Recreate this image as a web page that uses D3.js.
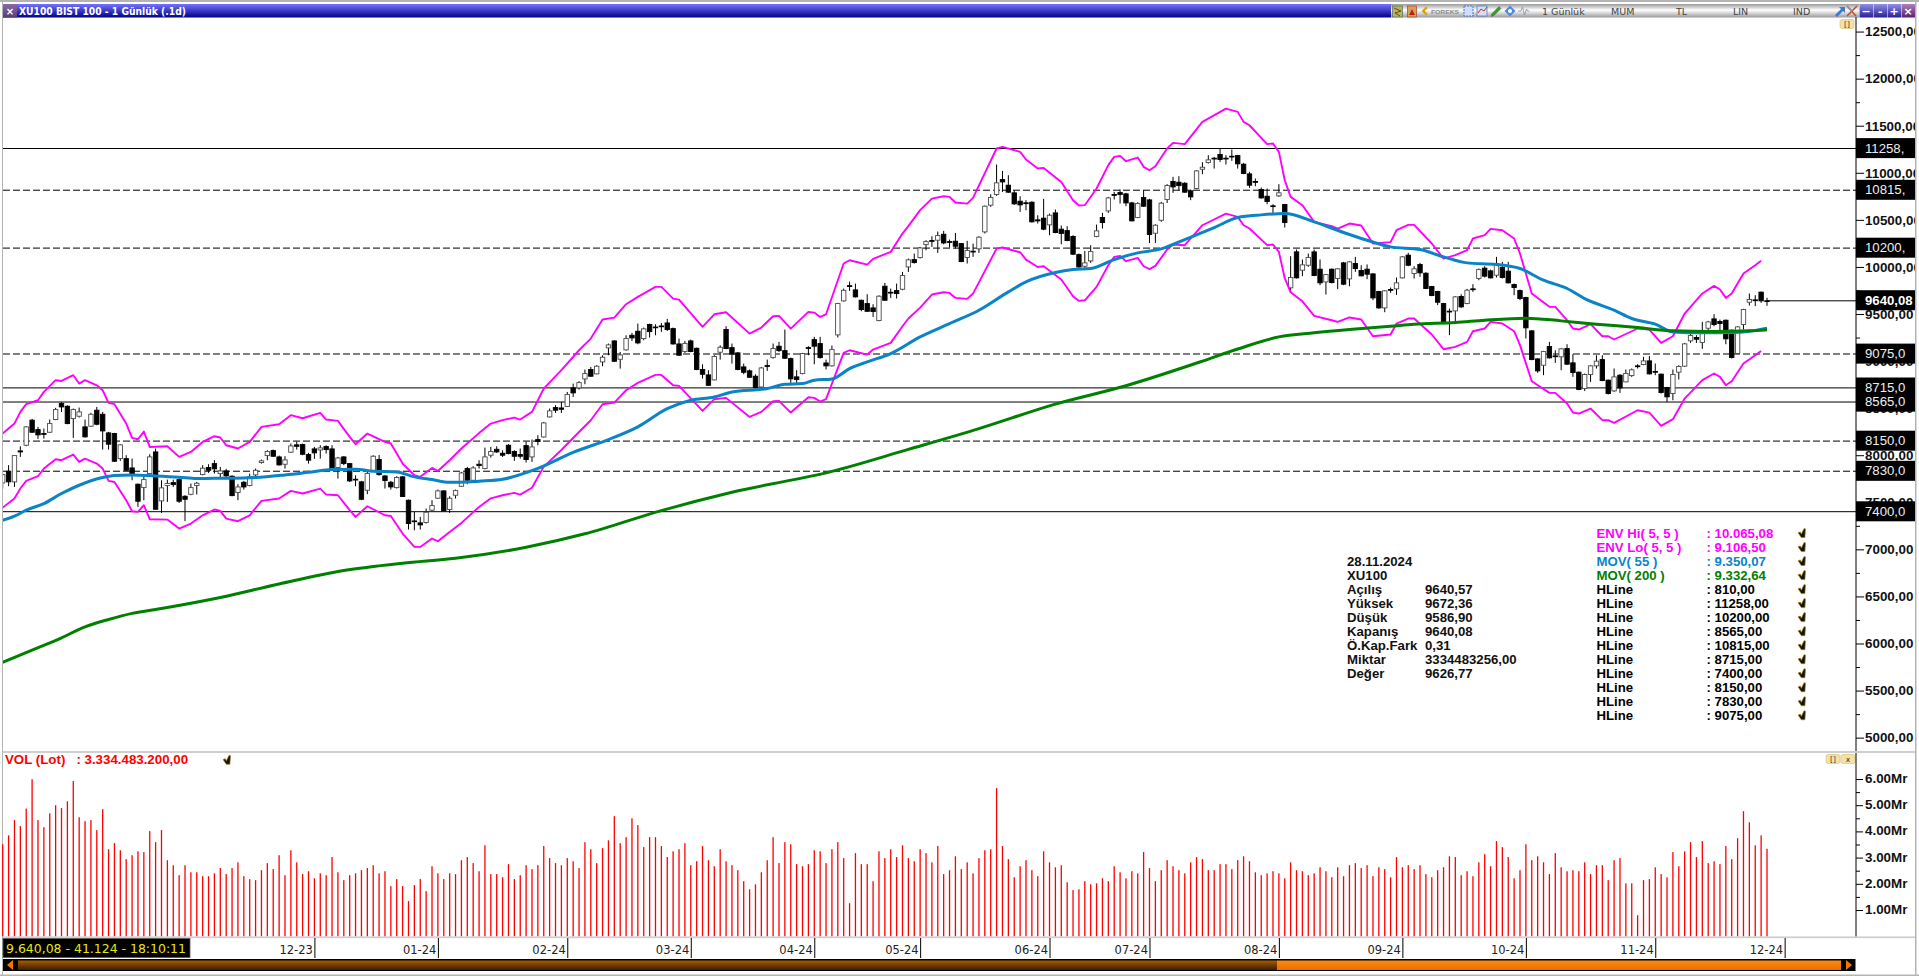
<!DOCTYPE html>
<html><head><meta charset="utf-8"><title>XU100</title>
<script src="https://cdn.jsdelivr.net/npm/d3@7"></script>
<style>html,body{margin:0;padding:0;background:#fff;overflow:hidden}svg{display:block}</style>
</head><body><div id="c"></div>
<script>
const opens=[7706,7830,7717,8046,8106,8372,8272,8230,8244,8379,
8549,8520,8389,8414,8301,8308,8478,8435,8237,8230,
7964,7964,7865,7692,7656,7805,8035,7515,7678,7709,
7741,7564,7585,7678,7794,7869,7911,7805,7833,7777,
7603,7713,7678,7791,7922,7996,8049,7982,7904,8032,
8110,8113,8007,8067,8056,8092,8067,7869,7982,7911,
7745,7717,7628,7830,7954,7780,7713,7656,7770,7522,
7302,7281,7285,7416,7543,7621,7423,7575,7670,7858,
7734,7904,7858,8000,8063,8021,8106,8039,8007,8102,
7982,8166,8194,8407,8506,8502,8517,8715,8715,8810,
8910,8864,8991,9140,9214,9019,9119,9274,9317,9239,
9388,9362,9373,9405,9345,9182,9101,9214,9136,8910,
8853,8800,9094,9335,9143,9087,8938,8896,8839,8725,
8952,9037,9158,9111,9026,8832,8867,9143,9228,9186,
8980,8949,9278,9639,9801,9756,9646,9611,9565,9430,
9795,9731,9749,9763,10000,10078,10099,10237,10280,10284,
10347,10269,10273,10248,10100,10167,10192,10372,10656,10769,
10928,10868,10787,10698,10681,10687,10500,10518,10447,10574,
10401,10386,10323,10131,10007,10064,10323,10525,10595,10769,
10790,10776,10680,10525,10737,10712,10358,10496,10716,10907,
10900,10889,10808,10833,11038,11109,11155,11194,11155,11176,
11183,11091,10988,10907,10822,10751,10649,10755,10663,9778,
10160,9965,10018,10160,9976,9841,9976,9877,10043,9873,
10036,9962,9976,9926,9739,9565,9760,9767,9884,10125,
9930,10026,9933,9792,9739,9611,9530,9533,9686,9611,
9767,9877,9987,9958,9912,9994,9955,9813,9749,9675,
9321,9023,8956,9154,9055,9045,9133,8981,8882,8708,
8857,8949,9016,8797,8683,8850,8779,8846,8949,8963,
9002,8890,8861,8719,8655,8882,8946,9215,9250,9197,
9349,9448,9420,9434,9328,9080,9388,9625,9650,9732,
9640.57];
const highs=[7805,7894,7996,8095,8308,8386,8301,8283,8379,8503,
8563,8531,8496,8506,8379,8450,8513,8460,8248,8237,
8117,8000,7964,7699,7787,8010,8071,7734,7741,7741,
7752,7575,7699,7716,7894,7904,7947,7876,7855,7787,
7692,7727,7805,7858,7954,8053,8060,7996,7989,8124,
8145,8124,8025,8088,8106,8106,8106,7982,7989,7918,
7787,7727,7823,8000,8003,7787,7727,7777,7777,7529,
7398,7345,7433,7522,7635,7628,7564,7635,7823,7876,
7883,7947,8081,8088,8095,8053,8117,8053,8071,8145,
8166,8212,8354,8496,8531,8566,8672,8761,8786,8910,
8938,8956,9062,9186,9221,9097,9274,9299,9398,9356,
9398,9391,9405,9448,9356,9239,9214,9228,9143,8966,
8903,9062,9168,9370,9186,9097,8973,8910,8860,8938,
9016,9186,9204,9335,9037,8903,9087,9158,9257,9257,
9016,9165,9618,9770,9844,9823,9653,9710,9604,9699,
9830,9770,9823,9947,10089,10142,10213,10284,10326,10376,
10383,10291,10361,10255,10277,10248,10326,10652,10772,11088,
11020,10974,10815,10751,10709,10698,10549,10723,10567,10610,
10440,10432,10337,10142,10170,10231,10450,10574,10744,10797,
10822,10787,10691,10687,10815,10723,10454,10691,10879,10957,
10964,10900,10822,11027,11112,11187,11169,11258,11187,11247,
11190,11105,11010,10939,10843,10833,10666,10879,10670,10114,
10185,10079,10142,10185,10079,9923,9983,9987,10054,10061,
10107,10018,10026,9933,9746,9753,9781,9888,10114,10150,
10008,10043,9944,9799,9746,9618,9558,9689,9710,9767,
9817,9983,10008,9972,10107,10054,10054,9824,9760,9682,
9328,9030,9108,9204,9115,9137,9179,9073,8889,8868,
8956,9062,9062,8804,8921,8861,8910,8921,8967,9045,
9052,8974,8868,8726,8910,8956,9193,9300,9275,9416,
9427,9498,9441,9441,9335,9370,9555,9718,9700,9739,
9672.36];
const lows=[7646,7671,7663,7982,8095,8237,8173,8177,8237,8372,
8460,8329,8184,8400,8187,8301,8318,8060,8060,7929,
7940,7833,7734,7451,7522,7770,7423,7387,7504,7663,
7493,7299,7575,7582,7787,7812,7805,7752,7770,7564,
7522,7635,7670,7770,7911,7947,7982,7890,7858,8025,
8060,8000,7911,7961,7964,8018,7848,7752,7894,7717,
7671,7522,7586,7823,7784,7646,7635,7646,7557,7210,
7203,7210,7274,7408,7536,7405,7387,7540,7663,7692,
7706,7858,7851,7975,8025,7982,8010,7940,7964,7922,
7929,8106,8187,8400,8450,8449,8513,8619,8697,8754,
8832,8860,8945,9062,8991,8920,9111,9214,9179,9221,
9250,9274,9310,9320,9175,9055,9087,9094,8903,8814,
8736,8796,9016,9126,8973,8903,8860,8821,8708,8718,
8896,9026,9097,9023,8761,8761,8860,9062,8966,9026,
8910,8942,9250,9632,9745,9675,9529,9522,9469,9423,
9639,9671,9664,9752,9947,10036,10089,10177,10213,10149,
10241,10206,10195,10050,10036,10107,10149,10355,10638,10755,
10797,10787,10659,10585,10602,10471,10461,10390,10337,10358,
10241,10273,10128,9990,9965,10043,10316,10408,10574,10716,
10673,10645,10486,10518,10638,10255,10255,10479,10680,10787,
10815,10787,10709,10825,10985,11098,11045,11116,11088,11127,
11045,10985,10840,10857,10726,10666,10574,10744,10418,9732,
9877,9902,10001,9902,9806,9707,9824,9764,9806,9795,
9948,9902,9870,9647,9555,9519,9725,9703,9877,10008,
9877,9895,9764,9689,9594,9406,9275,9424,9565,9604,
9735,9859,9888,9877,9888,9877,9824,9700,9647,9239,
9009,8875,8850,9027,8981,8903,8960,8832,8691,8683,
8779,8921,8786,8645,8673,8662,8776,8832,8921,8956,
8857,8850,8655,8563,8584,8804,8938,9193,9193,9130,
9328,9370,9328,9179,9027,9073,9335,9590,9583,9618,
9586.90];
const closes=[7794,7717,7996,8035,8301,8244,8216,8223,8336,8485,
8513,8336,8485,8460,8195,8435,8329,8258,8117,7936,
8110,7840,7805,7511,7741,7982,7426,7653,7699,7688,
7511,7532,7656,7702,7862,7840,7855,7833,7780,7571,
7663,7663,7770,7840,7940,8039,7989,7897,7950,8099,
8095,8010,7947,8025,8078,8060,7858,7971,7911,7727,
7738,7532,7805,7989,7794,7731,7663,7763,7561,7274,
7295,7260,7394,7465,7621,7408,7543,7624,7812,7734,
7865,7890,7982,8039,8035,8000,8017,7989,7989,7954,
8088,8145,8343,8471,8478,8488,8644,8662,8771,8867,
8839,8945,9041,9172,8998,9065,9239,9246,9193,9342,
9313,9355,9366,9335,9182,9062,9186,9101,8910,8860,
8743,9048,9147,9133,9073,8910,8881,8828,8718,8927,
8945,9133,9111,9030,8811,8803,9080,9136,9158,9037,
8949,9122,9611,9752,9794,9682,9547,9529,9526,9689,
9646,9724,9717,9908,10075,10046,10202,10269,10273,10333,
10255,10262,10220,10057,10174,10160,10316,10645,10737,10893,
10903,10794,10670,10659,10674,10479,10489,10401,10549,10365,
10355,10280,10135,10000,10043,10163,10383,10471,10733,10762,
10769,10680,10489,10673,10645,10344,10443,10677,10865,10850,
10864,10794,10744,11020,11059,11137,11148,11141,11148,11169,
11095,10992,10868,10900,10733,10695,10642,10787,10471,9888,
9884,10022,10100,9909,9831,9919,9834,9980,9817,10054,
9983,9905,9923,9671,9565,9746,9753,9831,10107,10018,
9980,9937,9771,9696,9625,9417,9523,9682,9576,9753,
9760,9972,9902,9884,10036,9888,9831,9781,9664,9353,
9016,8896,9101,9034,9048,9130,8967,8878,8698,8857,
8949,8999,8793,8655,8832,8715,8868,8907,8942,9002,
8864,8883,8666,8620,8857,8942,9183,9271,9232,9321,
9416,9388,9399,9236,9038,9363,9548,9654,9643,9640,
9640.08];
const volumes=[3.51,3.85,4.43,4.20,4.87,5.99,4.43,4.16,4.69,5.00,4.89,5.15,5.92,4.54,4.39,4.43,4.05,4.85,3.32,3.55,3.28,2.94,3.09,3.24,3.21,4.01,3.59,4.05,2.90,2.71,2.33,2.71,2.44,2.44,2.29,2.29,2.40,2.60,2.37,2.60,2.82,2.29,2.18,2.14,2.52,2.79,2.56,3.09,2.33,3.28,2.82,2.37,2.48,2.21,2.40,2.33,3.02,2.44,2.14,2.33,2.40,2.52,2.60,2.71,2.40,2.48,1.91,2.18,1.91,1.34,1.95,2.18,1.72,2.67,2.40,2.18,2.40,2.37,2.90,3.02,2.79,2.48,3.47,2.37,2.37,2.25,2.75,2.18,2.33,2.71,2.56,2.71,3.44,2.98,2.79,2.71,2.98,2.86,2.60,3.59,3.32,2.79,3.36,3.66,4.58,3.55,3.78,4.50,4.24,
3.40,3.78,3.78,3.44,3.02,3.24,3.32,3.55,2.71,2.86,3.44,2.90,2.67,3.32,2.86,2.71,2.52,2.10,1.79,1.98,2.44,2.90,3.78,2.79,3.59,3.51,2.75,2.67,2.75,3.28,3.24,2.79,3.32,3.59,2.98,1.26,3.17,2.75,2.75,2.10,3.24,2.98,3.32,3.02,3.47,2.98,2.86,3.32,3.17,2.82,3.44,2.37,2.52,3.05,2.56,2.82,2.40,2.98,3.28,3.32,5.65,3.44,2.94,2.25,2.67,2.90,2.52,2.29,3.24,2.82,2.63,2.71,2.06,1.76,1.79,2.10,1.98,2.02,2.21,2.10,2.67,2.44,2.21,2.48,2.40,3.21,2.60,2.10,2.52,2.90,2.67,2.52,2.40,2.82,3.02,2.94,2.52,2.52,2.75,2.75,2.56,2.90,3.05,2.86,2.44,2.33,2.40,2.48,2.40,
2.21,2.82,2.52,2.48,2.33,2.40,2.63,2.48,2.25,2.63,2.29,2.71,2.79,2.60,2.71,2.29,2.63,2.56,2.25,3.02,2.63,2.71,2.56,2.71,2.37,2.25,2.52,2.63,3.05,3.02,2.33,2.48,2.29,2.82,3.13,2.67,3.63,3.40,3.02,2.21,2.52,3.51,2.90,3.05,2.82,2.37,3.17,2.63,2.48,2.52,2.48,2.82,2.37,2.71,2.71,2.14,2.90,2.98,2.02,2.02,0.80,2.14,2.18,2.63,2.37,2.25,3.21,2.67,3.24,3.59,3.02,3.63,2.79,2.86,2.75,3.44,2.94,3.74,4.77,4.35,3.47,3.85,3.334];
const envIdx=[0,2,3,4,6,7,9,10,12,13,14,16,17,18,19,21,22,23,24,25,28,30,32,34,36,37,38,40,42,44,47,49,51,54,55,57,59,60,62,65,66,68,70,71,73,74,76,78,81,
83,85,87,88,90,91,92,95,98,100,102,104,106,108,111,112,114,115,119,121,123,127,129,131,132,134,137,138,139,140,143,144,147,148,151,153,
154,156,158,160,161,162,164,165,169,170,173,174,176,177,180,182,183,184,186,188,189,190,191,193,194,195,196,198,199,201,204,208,210,211,212,215,216,217,218,219,221,
223,226,227,229,231,233,236,237,239,240,243,245,247,249,250,252,253,255,257,258,260,263,264,266,267,268,270,272,273,274,278,280,282,284,286,289,291,292,293,294,296,298,299];
const envHi=[8230,8336,8460,8542,8584,8673,8797,8789,8850,8761,8797,8743,8690,8556,8542,8336,8184,8170,8251,8088,8095,7982,8035,8141,8202,8188,8106,8071,8141,8301,8329,8425,8393,8450,8379,8365,8195,8117,8230,8141,8124,7911,7787,7770,7865,7833,7947,8071,8235,
8336,8372,8400,8379,8460,8584,8708,8903,9115,9239,9441,9462,9604,9682,9788,9788,9664,9653,9363,9497,9519,9292,9356,9476,9480,9345,9522,9515,9469,9497,10036,10071,10025,10085,10160,10354,
10433,10603,10726,10751,10744,10684,10673,10734,11258,11275,11222,11141,11045,11052,10903,10709,10652,10656,10833,11081,11169,11180,11123,11162,11063,11027,11070,11258,11318,11304,11541,11682,11647,11541,11505,11304,11311,11222,10921,10744,10656,
10479,10433,10408,10461,10440,10249,10263,10390,10447,10447,10249,10089,10125,10178,10302,10337,10404,10390,10302,10142,9718,9576,9576,9434,9346,9335,9392,9264,9264,9229,9346,9335,9193,9264,9505,9718,9799,9760,9671,9718,9930,10018,10065.08];
const envLo=[7444,7540,7646,7727,7777,7858,7957,7947,8007,7929,7964,7911,7858,7727,7716,7522,7405,7398,7469,7320,7316,7221,7274,7362,7423,7408,7327,7299,7362,7515,7540,7621,7593,7646,7582,7575,7416,7345,7458,7362,7355,7168,7026,7026,7115,7086,7185,7281,7451,
7542,7575,7600,7581,7654,7766,7879,8055,8247,8371,8541,8559,8690,8768,8853,8853,8743,8736,8471,8595,8609,8407,8460,8573,8577,8453,8616,8609,8570,8595,9087,9115,9069,9122,9193,9370,
9452,9568,9707,9731,9724,9671,9661,9717,10195,10206,10156,10078,10000,10007,9866,9689,9639,9646,9788,10018,10107,10117,10061,10096,10007,9976,10011,10185,10238,10231,10443,10567,10532,10443,10408,10231,10238,10160,9880,9730,9635,
9480,9434,9416,9463,9441,9264,9282,9399,9452,9452,9282,9126,9151,9204,9317,9346,9416,9399,9317,9169,8786,8662,8662,8549,8453,8443,8496,8372,8372,8344,8478,8453,8312,8383,8602,8797,8868,8832,8744,8786,8974,9062,9106.50];
const mov55Idx=[0,2,4,7,10,13,17,19,22,26,30,33,36,39,43,48,52,56,60,63,67,70,73,76,79,81,85,91,97,103,108,113,117,121,124,130,133,136,138,141,144,147,151,156,161,166,171,174,179,182,185,189,193,197,201,206,210,214,218,223,228,232,236,241,245,249,254,258,262,266,269,274,277,281,284,289,294,297,300];
const mov55=[7309,7352,7416,7486,7593,7681,7763,7784,7791,7780,7766,7752,7755,7755,7763,7791,7819,7848,7851,7830,7823,7770,7741,7713,7716,7724,7745,7860,8030,8166,8301,8495,8584,8619,8672,8708,8754,8761,8796,8810,8920,8991,9080,9257,9398,9540,9735,9841,9940,9972,9983,10078,10149,10192,10291,10418,10525,10553,10567,10479,10366,10284,10213,10185,10107,10043,10026,9983,9859,9771,9664,9540,9452,9392,9310,9300,9303,9317,9350.07];
const mov200Idx=[0,5,10,14,18,22,27,37,47,58,68,77,89,99,112,124,141,154,166,179,191,204,210,217,223,229,236,240,247,252,259,265,271,278,284,291,297,300];
const mov200=[5800,5930,6061,6177,6255,6320,6372,6489,6632,6775,6853,6905,7022,7165,7412,7607,7828,8062,8283,8543,8738,8999,9128,9257,9300,9335,9370,9392,9409,9434,9456,9427,9392,9356,9321,9314,9321,9332.64];
const hLineValues=[11258,10815,10200,9075,8715,8565,8150,7830,7400];
const hLineDashed=[false,true,true,true,false,false,true,true,false];
const hLineTags=["11258,","10815,","10200,","9075,0","8715,0","8565,0","8150,0","7830,0","7400,0"];
const priceTicks=[5000,5500,6000,6500,7000,7500,8000,8500,9000,9500,10000,10500,11000,11500,12000,12500];
const volumeTicks=[1,2,3,4,5,6];
const monthIdx=[53,74,96,117,138,156,178,195,217,238,259,281,303];
const monthLabels=["12-23","01-24","02-24","03-24","04-24","05-24","06-24","07-24","08-24","09-24","10-24","11-24","12-24"];
const infoLabels=["28.11.2024","XU100","Açılış","Yüksek","Düşük","Kapanış","Ö.Kap.Fark","Miktar","Değer"];
const infoValues=["","","9640,57","9672,36","9586,90","9640,08","0,31","3334483256,00","9626,77"];
const legendNames=["ENV Hi( 5, 5 )","ENV Lo( 5, 5 )","MOV( 55 )","MOV( 200 )","HLine","HLine","HLine","HLine","HLine","HLine","HLine","HLine","HLine","HLine"];
const legendValues=[": 10.065,08",": 9.106,50",": 9.350,07",": 9.332,64",": 810,00",": 11258,00",": 10200,00",": 8565,00",": 10815,00",": 8715,00",": 7400,00",": 8150,00",": 7830,00",": 9075,00"];
const legendColors=["#ff00ff","#ff00ff","#0a84c6","#008000","#000","#000","#000","#000","#000","#000","#000","#000","#000","#000"];

[highs,lows,closes,volumes].forEach((a,k)=>{if(a.length!==opens.length)throw new Error("len "+k+" "+a.length+" vs "+opens.length)});
if(envIdx.length!==envHi.length||envIdx.length!==envLo.length)throw new Error("env "+envIdx.length+" "+envHi.length+" "+envLo.length);
if(mov55Idx.length!==mov55.length)throw new Error("m55 "+mov55Idx.length+" "+mov55.length);
if(mov200Idx.length!==mov200.length)throw new Error("m200");

const W=1919,H=976,axisX=1856;
const sans="'Liberation Sans',Arial,sans-serif", dj="'DejaVu Sans',Verdana,sans-serif";
const x=d3.scaleLinear().domain([0,300]).range([2.7,1767]);
const y=d3.scaleLinear().domain([11258,7400]).range([148.5,511.7]);
const yv=d3.scaleLinear().domain([0,6]).range([936.2,779]);

const svg=d3.select("#c").append("svg").attr("width",W).attr("height",H).attr("viewBox",`0 0 ${W} ${H}`);
const defs=svg.append("defs");
function grad(id,stops){const g=defs.append("linearGradient").attr("id",id).attr("x1",0).attr("y1",0).attr("x2",0).attr("y2",1);
  stops.forEach(s=>g.append("stop").attr("offset",s[0]).attr("stop-color",s[1]));}
grad("gTitle",[[0,"#7474ff"],[1,"#00008a"]]);
grad("gTool",[[0,"#9a9a9a"],[.45,"#ffffff"],[1,"#9a9a9a"]]);
grad("gBtn",[[0,"#8f8fe8"],[1,"#2a1f96"]]);
grad("gBtnX",[[0,"#b080c0"],[1,"#5a1f6e"]]);
grad("gClose",[[0,"#8a6aa8"],[1,"#5a3a78"]]);
grad("gBrown",[[0,"#a85c00"],[1,"#3c1e00"]]);
grad("gOrange",[[0,"#ff8a10"],[1,"#e87000"]]);
defs.append("clipPath").attr("id","clipAxis").append("rect").attr("x",axisX).attr("y",17).attr("width",59).attr("height",734);
defs.append("clipPath").attr("id","clipMain").append("rect").attr("x",3).attr("y",17).attr("width",axisX-3).attr("height",734);

svg.append("rect").attr("width",W).attr("height",H).attr("fill","#fff");

// ---- window frame
const frame=svg.append("g");
frame.append("rect").attr("x",0).attr("y",0).attr("width",W).attr("height",2).attr("fill","#b4b4b4");
frame.append("rect").attr("x",2).attr("y",0).attr("width",1).attr("height",H).attr("fill","#b4b4b4");
frame.append("rect").attr("x",1915).attr("y",0).attr("width",1.5).attr("height",H).attr("fill","#b4b4b4");
frame.append("rect").attr("x",0).attr("y",974.5).attr("width",W).attr("height",1.5).attr("fill","#b4b4b4");

// ---- title bar
const tb=svg.append("g");
tb.append("rect").attr("x",3).attr("y",4).attr("width",1388).attr("height",13.5).attr("fill","url(#gTitle)");
tb.append("rect").attr("x",3).attr("y",4).attr("width",14).attr("height",13.5).attr("fill","url(#gClose)");
tb.append("text").attr("x",10).attr("y",14.5).attr("text-anchor","middle").attr("fill","#fff").attr("font-family",dj).attr("font-weight","bold").attr("font-size",10).text("×");
tb.append("text").attr("x",19).attr("y",15).attr("fill","#fff").attr("font-family",dj).attr("font-weight","bold").attr("font-size",10.5).attr("textLength",167).attr("lengthAdjust","spacingAndGlyphs").text("XU100 BIST 100 - 1 Günlük (.1d)");
tb.append("rect").attr("x",1391).attr("y",4).attr("width",468).attr("height",13.5).attr("fill","url(#gTool)");
[["1 Günlük",1542],["MUM",1611],["TL",1676],["LIN",1733],["IND",1793]].forEach(d=>
  tb.append("text").attr("x",d[1]).attr("y",14.5).attr("fill","#444").attr("font-family",dj).attr("font-size",9.5).text(d[0]));
// toolbar icons
const ic=tb.append("g");
ic.append("rect").attr("x",1392.5).attr("y",6).attr("width",10).attr("height",11).attr("fill","#9fbf60").attr("stroke","#555").attr("stroke-width",.6);
ic.append("path").attr("d","M1394 8l7 3l-6 2l5 3").attr("fill","none").attr("stroke","#a03010").attr("stroke-width",1);
ic.append("rect").attr("x",1407.5).attr("y",6).attr("width",9).attr("height",11).attr("fill","#d8a060").attr("stroke","#a03010").attr("stroke-width",.6);
ic.append("path").attr("d","M1409 15l3-6l3 6z").attr("fill","#c02010");
ic.append("path").attr("d","M1426 6.5l-4.5 4.5l4.5 4.5l1.6-1.6l-2.9-2.9l2.9-2.9z").attr("fill","#e0a000");
ic.append("text").attr("x",1431).attr("y",13.6).attr("fill","#8a8a8a").attr("font-family",sans).attr("font-weight","bold").attr("font-size",6).attr("textLength",28).attr("lengthAdjust","spacingAndGlyphs").text("FOREKS");
ic.append("rect").attr("x",1464).attr("y",6).attr("width",9).attr("height",10).attr("fill","#cfe0ff").attr("stroke","#4a70d0").attr("stroke-width",1).attr("stroke-dasharray","2 1");
ic.append("rect").attr("x",1477).attr("y",6).attr("width",10).attr("height",10).attr("fill","#d0e0f4").attr("stroke","#4a70c0").attr("stroke-width",.7);
ic.append("path").attr("d","M1478 13l3-4l3 2l3-4").attr("fill","none").attr("stroke","#d03030").attr("stroke-width",1);
ic.append("path").attr("d","M1491 16.5l1-3l7-7l2 2l-7 7z").attr("fill","#3a9a30").attr("stroke","#206020").attr("stroke-width",.4);
ic.append("path").attr("d","M1510 5.5l5.5 5.5l-5.5 5.5l-5.5-5.5z").attr("fill","#4a8ae0");
ic.append("circle").attr("cx",1510).attr("cy",11).attr("r",2).attr("fill","#fff");
ic.append("path").attr("d","M1518 11h3l1.5-4l2 8l2-6l1 2h2").attr("fill","none").attr("stroke","#8a9aa8").attr("stroke-width",.9);
ic.append("path").attr("d","M1835 15l6-6l-2-2h6v6l-2-2l-6 6z").attr("fill","#3a7ad8");
ic.append("path").attr("d","M1847 6l9 10M1857 6l-10 10").attr("fill","none").attr("stroke","#c05030").attr("stroke-width",1.6);
ic.append("path").attr("d","M1847 6l5 5").attr("fill","none").attr("stroke","#999").attr("stroke-width",2);
[[1859.5,"−","gBtn"],[1873.5,"-","gBtn"],[1887.5,"+","gBtn"],[1901.5,"×","gBtnX"]].forEach(d=>{
  tb.append("rect").attr("x",d[0]).attr("y",4).attr("width",13.5).attr("height",13.5).attr("fill",`url(#${d[2]})`);
  tb.append("text").attr("x",d[0]+6.7).attr("y",15).attr("text-anchor","middle").attr("fill","#fff").attr("font-family",dj).attr("font-weight","bold").attr("font-size",11).text(d[1]);
});

// ---- main plot
const main=svg.append("g").attr("clip-path","url(#clipMain)");
main.selectAll("line.h").data(hLineValues).join("line").attr("class","h")
  .attr("x1",3).attr("x2",axisX).attr("y1",d=>y(d)).attr("y2",d=>y(d))
  .attr("stroke","#000").attr("stroke-width",1).attr("stroke-dasharray",(d,i)=>hLineDashed[i]?"7 3":null);

const candles=main.append("g");
const idx=d3.range(opens.length);
candles.selectAll("line.w").data(idx).join("line").attr("class","w")
  .attr("x1",i=>x(i)).attr("x2",i=>x(i)).attr("y1",i=>y(highs[i])).attr("y2",i=>y(lows[i]))
  .attr("stroke","#000").attr("stroke-width",1);
candles.selectAll("rect.b").data(idx).join("rect").attr("class","b")
  .attr("x",i=>x(i)-2.2).attr("width",4.4)
  .attr("y",i=>y(Math.max(opens[i],closes[i])))
  .attr("height",i=>Math.max(.8,Math.abs(y(opens[i])-y(closes[i]))))
  .attr("fill",i=>closes[i]>=opens[i]?"#fff":"#000")
  .attr("stroke",i=>closes[i]>=opens[i]?"#4a4a4a":"#000").attr("stroke-width",.9);

// last price line
main.append("line").attr("x1",x(300)).attr("x2",axisX).attr("y1",y(closes[300])).attr("y2",y(closes[300])).attr("stroke","#000").attr("stroke-width",1);

const lineOf=(ix,vals,curve)=>d3.line().x((d,i)=>x(ix[i])).y(d=>y(d)).curve(curve)(vals);
main.append("path").attr("d",lineOf(envIdx,envHi,d3.curveLinear)).attr("fill","none").attr("stroke","#ff00ff").attr("stroke-width",1.9).attr("stroke-linejoin","round");
main.append("path").attr("d",lineOf(envIdx,envLo,d3.curveLinear)).attr("fill","none").attr("stroke","#ff00ff").attr("stroke-width",1.9).attr("stroke-linejoin","round");
main.append("path").attr("d",lineOf(mov55Idx,mov55,d3.curveMonotoneX)).attr("fill","none").attr("stroke","#0a84c6").attr("stroke-width",3);
main.append("path").attr("d",lineOf(mov200Idx,mov200,d3.curveMonotoneX)).attr("fill","none").attr("stroke","#008000").attr("stroke-width",3);

// ---- price axis
const axisG=svg.append("g").attr("clip-path","url(#clipAxis)");
const minorTicks=priceTicks.map(d=>d+250).filter(d=>d<12500);
axisG.append("g").attr("transform",`translate(${axisX},0)`)
  .call(d3.axisRight(y).tickValues(minorTicks).tickSize(4).tickFormat(""))
  .call(g=>g.select(".domain").remove()).selectAll("line").attr("stroke","#000");
axisG.append("g").attr("transform",`translate(${axisX},0)`)
  .call(d3.axisRight(y).tickValues(priceTicks).tickSize(8).tickPadding(1).tickFormat(d=>d+",00"))
  .call(g=>g.select(".domain").remove())
  .call(g=>g.selectAll("line").attr("stroke","#000"))
  .call(g=>g.selectAll("text").attr("font-family",sans).attr("font-weight","bold").attr("font-size",13.4).attr("fill","#111"));
svg.append("line").attr("x1",axisX).attr("x2",axisX).attr("y1",17).attr("y2",751).attr("stroke","#000").attr("stroke-width",1);
// badges
const tags=axisG.append("g");
hLineValues.forEach((v,i)=>{
  tags.append("rect").attr("x",axisX).attr("y",y(v)-10.4).attr("width",59).attr("height",20).attr("fill","#000");
});
hLineValues.forEach((v,i)=>{
  tags.append("text").attr("x",1865).attr("y",y(v)+4.2).attr("fill","#eee").attr("font-family",sans).attr("font-size",13.2).text(hLineTags[i]);
});
tags.append("rect").attr("x",axisX).attr("y",y(closes[300])-10.6).attr("width",59).attr("height",20).attr("fill","#000");
tags.append("text").attr("x",1865).attr("y",y(closes[300])+4.1).attr("fill","#fff").attr("font-family",sans).attr("font-weight","bold").attr("font-size",13.2).text("9640,08");

// small yellow buttons
function yBtn(cx,cy,t){
  svg.append("rect").attr("x",cx-7).attr("y",cy-4.5).attr("width",14).attr("height",9).attr("rx",2).attr("fill","#f3e2a4").attr("stroke","#d8c484").attr("stroke-width",.7);
  svg.append("text").attr("x",cx).attr("y",cy+3).attr("text-anchor","middle").attr("fill","#333").attr("font-family",dj).attr("font-size",7.5).text(t);
}
yBtn(1847,24,"[]");
yBtn(1833,759,"[]");
yBtn(1848,759,"x");

// ---- info block
const info=svg.append("g").attr("font-family",sans).attr("font-weight","bold").attr("font-size",13.2).attr("fill","#111");
infoLabels.forEach((t,i)=>{
  const yy=565.7+i*14.02;
  info.append("text").attr("x",1347).attr("y",yy).text(t);
  if(infoValues[i]) info.append("text").attr("x",1425).attr("y",yy).text(infoValues[i]);
});
function check(g,cx,cy){
  g.append("path").attr("d",`M${cx-3.4} ${cy-0.5}l2.2 -0.8l1 2.2l2.8-5.6l1.4 0.4l-0.6 8.6h-3.6z`).attr("fill","#111").attr("stroke","#a88410").attr("stroke-width",.7);
}
const leg=svg.append("g").attr("font-family",sans).attr("font-weight","bold").attr("font-size",13.2);
legendNames.forEach((t,i)=>{
  const yy=537.7+i*14.02;
  leg.append("text").attr("x",1596.5).attr("y",yy).attr("fill",legendColors[i]).text(t);
  leg.append("text").attr("x",1706.5).attr("y",yy).attr("fill",legendColors[i]).text(legendValues[i]);
  check(leg,1801.5,yy-4.5);
});

// ---- volume panel
svg.append("rect").attr("x",3).attr("y",751).attr("width",1912).attr("height",2).attr("fill","#cfcfcf");
svg.append("rect").attr("x",3).attr("y",936.4).attr("width",1912).attr("height",1.8).attr("fill","#cfcfcf");
svg.append("g").selectAll("rect").data(idx).join("rect")
  .attr("x",i=>x(i)-.65).attr("width",1.3).attr("y",i=>yv(volumes[i])).attr("height",i=>yv(0)-yv(volumes[i])).attr("fill","#f00");
svg.append("text").attr("x",5).attr("y",764.2).attr("fill","#f00").attr("font-family",sans).attr("font-weight","bold").attr("font-size",13.3).attr("xml:space","preserve").text("VOL (Lot)   : 3.334.483.200,00");
check(svg.append("g"),226.5,760);
svg.append("g").attr("transform",`translate(${axisX},0)`)
  .call(d3.axisRight(yv).tickValues(volumeTicks.map(d=>d+.5).filter(d=>d<6)).tickSize(4).tickFormat(""))
  .call(g=>g.select(".domain").remove()).selectAll("line").attr("stroke","#000");
svg.append("g").attr("transform",`translate(${axisX},0)`)
  .call(d3.axisRight(yv).tickValues(volumeTicks).tickSize(7).tickPadding(2).tickFormat(d=>d3.format(".2f")(d)+"Mr"))
  .call(g=>g.select(".domain").remove())
  .call(g=>g.selectAll("line").attr("stroke","#000"))
  .call(g=>g.selectAll("text").attr("font-family",sans).attr("font-weight","bold").attr("font-size",13.4).attr("fill","#111").attr("dy","0.26em"));
svg.append("line").attr("x1",axisX).attr("x2",axisX).attr("y1",753).attr("y2",936.4).attr("stroke","#000");

// ---- date axis
svg.append("g").attr("transform","translate(0,938)")
  .call(d3.axisBottom(x).tickValues(monthIdx).tickSize(20).tickFormat((d,i)=>monthLabels[i]))
  .call(g=>g.select(".domain").remove())
  .call(g=>g.selectAll("line").attr("stroke","#000").attr("stroke-width",1))
  .call(g=>g.selectAll("text").attr("text-anchor","end").attr("dx",-2).attr("y",0).attr("dy","15.6").attr("font-family",dj).attr("font-size",11.5).attr("fill","#222"));
svg.append("rect").attr("x",3).attr("y",938.6).attr("width",187).attr("height",19).attr("fill","#000").attr("stroke","#555").attr("stroke-width",.8);
svg.append("text").attr("x",6).attr("y",952.6).attr("fill","#e6e61a").attr("font-family",dj).attr("font-size",11.5).attr("textLength",180).attr("lengthAdjust","spacingAndGlyphs").text("9.640,08 - 41.124 - 18:10:11");

// ---- scrollbar
const sb=svg.append("g");
sb.append("rect").attr("x",3).attr("y",959).attr("width",1852.5).attr("height",12).attr("fill","#000");
sb.append("rect").attr("x",18).attr("y",960.5).attr("width",1259).attr("height",9.5).attr("fill","url(#gBrown)");
sb.append("rect").attr("x",1277).attr("y",960.5).attr("width",564).attr("height",9.5).attr("fill","url(#gOrange)");
sb.append("path").attr("d","M7 965l6-5v10z").attr("fill","#f07800");
sb.append("path").attr("d","M1852 965l-6-5v10z").attr("fill","#f07800");
</script></body></html>
